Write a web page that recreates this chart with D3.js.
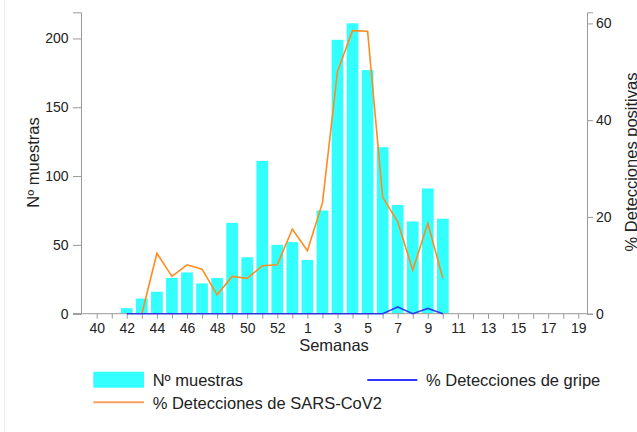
<!DOCTYPE html>
<html>
<head>
<meta charset="utf-8">
<script src="https://cdn.jsdelivr.net/npm/d3@7"></script>
<style>
  body { margin: 0; background: #fff; }
  svg { display: block; font-family: "Liberation Sans", Arial, sans-serif; }
</style>
</head>
<body>
<div id="chart"></div>
<script>
// weeks 40..53 of 2020, then 1..19 of 2021
var semanas = ['40','41','42','43','44','45','46','47','48','49','50','51','52','53',
               '1','2','3','4','5','6','7','8','9','10','11','12','13','14','15','16','17','18','19'];

// Nº muestras (weeks 42 .. 10)
var muestrasSemanas = ['42','43','44','45','46','47','48','49','50','51','52','53','1','2','3','4','5','6','7','8','9','10'];
var muestras = [4, 11, 16, 26, 30, 22, 26, 66, 41, 111, 50, 52, 39, 75, 199, 211, 177, 121, 79, 67, 91, 69];

// % Detecciones de SARS-CoV2 (weeks 43 .. 10)
var covidSemanas = ['43','44','45','46','47','48','49','50','51','52','53','1','2','3','4','5','6','7','8','9','10'];
var covid = [0, 12.5, 7.7, 10.1, 9.2, 3.9, 7.7, 7.3, 9.9, 10.1, 17.5, 13.0, 22.9, 50.1, 58.5, 58.4, 24.1, 19.0, 9.0, 18.7, 7.3];

// % Detecciones de gripe (weeks 42 .. 10)
var gripeSemanas = muestrasSemanas;
var gripe = [0, 0, 0, 0, 0, 0, 0, 0, 0, 0, 0, 0, 0, 0, 0, 0, 0, 0, 1.4, 0, 1.1, 0];

var leftTicks = [0, 50, 100, 150, 200];
var rightTicks = [0, 20, 40, 60];

var chart = {
  width: 637,
  height: 432,
  left: 81,
  right: 587,
  top: 12.3,
  bottom: 313.7
};

var svg = d3.select('#chart').append('svg')
            .attr('width', chart.width)
            .attr('height', chart.height);

// faint frame line on the left
svg.append('line')
   .attr('x1', 4.5).attr('x2', 4.5)
   .attr('y1', 0).attr('y2', chart.height)
   .attr('stroke', '#e6eef2');

var x = d3.scalePoint()
          .domain(semanas)
          .range([96.7, 578.3]);

var yLeft = d3.scaleLinear()
              .domain([0, 219])
              .range([chart.bottom, chart.top]);

var yRight = d3.scaleLinear()
               .domain([0, 62.3])
               .range([chart.bottom, chart.top]);

var barWidth = x.step() * 0.78;

// bars
svg.append('g')
   .selectAll('rect')
   .data(muestras)
   .enter()
   .append('rect')
   .attr('x', function(d, i) { return x(muestrasSemanas[i]) - barWidth / 2; })
   .attr('y', function(d) { return yLeft(d); })
   .attr('width', barWidth)
   .attr('height', function(d) { return chart.bottom - yLeft(d); })
   .attr('fill', '#33ffff');

// lines
var covidLine = d3.line()
                  .x(function(d, i) { return x(covidSemanas[i]); })
                  .y(function(d) { return yRight(d); });

var gripeLine = d3.line()
                  .x(function(d, i) { return x(gripeSemanas[i]); })
                  .y(function(d) { return yRight(d); });

svg.append('path')
   .attr('d', covidLine(covid))
   .attr('fill', 'none')
   .attr('stroke', '#ff8c1e')
   .attr('stroke-width', 1.6);

// x axis
var xAxis = d3.axisBottom(x)
              .tickSize(5)
              .tickFormat(function(d, i) { return i % 2 === 0 ? d : ''; });

var gx = svg.append('g')
            .attr('transform', 'translate(0,' + chart.bottom + ')')
            .call(xAxis);
gx.select('.domain').remove();
gx.append('line')
  .attr('x1', 73).attr('x2', chart.right)
  .attr('stroke', '#999');

svg.append('path')
   .attr('d', gripeLine(gripe))
   .attr('fill', 'none')
   .attr('stroke', '#2222ee')
   .attr('stroke-width', 1.6)
   .attr('opacity', 0.85);

// left axis
var gl = svg.append('g')
            .attr('transform', 'translate(' + chart.left + ',0)')
            .call(d3.axisLeft(yLeft).tickValues(leftTicks).tickSize(8).tickPadding(4));

// right axis
var gr = svg.append('g')
            .attr('transform', 'translate(' + chart.right + ',0)')
            .call(d3.axisRight(yRight).tickValues(rightTicks).tickSize(6).tickPadding(3));

svg.selectAll('.domain').attr('stroke', '#999');
svg.selectAll('.tick line').attr('stroke', '#999');
svg.selectAll('.tick text')
   .attr('fill', '#222')
   .style('font-size', '14px')
   .style('font-family', '"Liberation Sans", Arial, sans-serif');
gx.selectAll('.tick text').attr('dy', '0.95em').attr('y', 6);
gl.selectAll('.tick text').attr('x', -12.5);

// axis titles
svg.append('text')
   .attr('x', 334)
   .attr('y', 351)
   .attr('text-anchor', 'middle')
   .attr('fill', '#222')
   .style('font-size', '16.5px')
   .text('Semanas');

svg.append('text')
   .attr('transform', 'translate(39,162.5) rotate(-90)')
   .attr('text-anchor', 'middle')
   .attr('fill', '#222')
   .style('font-size', '16.5px')
   .text('Nº muestras');

svg.append('text')
   .attr('transform', 'translate(636.5,162) rotate(-90)')
   .attr('text-anchor', 'middle')
   .attr('fill', '#222')
   .style('font-size', '16.5px')
   .text('% Detecciones positivas');

// legend
var legend = svg.append('g');
legend.append('rect')
      .attr('x', 93.3).attr('y', 371.7)
      .attr('width', 50.7).attr('height', 16)
      .attr('fill', '#33ffff');
legend.append('text')
      .attr('x', 152.7).attr('y', 385.7)
      .attr('fill', '#222')
      .style('font-size', '16.5px')
      .text('Nº muestras');

legend.append('line')
      .attr('x1', 367.3).attr('x2', 417.3)
      .attr('y1', 380).attr('y2', 380)
      .attr('stroke', '#3333ff').attr('stroke-width', 2);
legend.append('text')
      .attr('x', 426).attr('y', 385.7)
      .attr('fill', '#222')
      .style('font-size', '16.5px')
      .text('% Detecciones de gripe');

legend.append('line')
      .attr('x1', 93.3).attr('x2', 144)
      .attr('y1', 402.3).attr('y2', 402.3)
      .attr('stroke', '#ffa060').attr('stroke-width', 2);
legend.append('text')
      .attr('x', 152.7).attr('y', 409)
      .attr('fill', '#222')
      .style('font-size', '16.5px')
      .text('% Detecciones de SARS-CoV2');
</script>
</body>
</html>
